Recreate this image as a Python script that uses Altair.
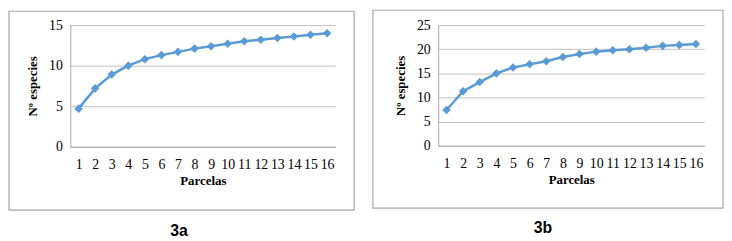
import altair as alt
import pandas as pd

parcelas = list(range(1, 17))
especies_3a = [4.7, 7.2, 8.9, 10.0, 10.8, 11.3, 11.7, 12.1, 12.4, 12.7, 13.0, 13.2, 13.4, 13.6, 13.8, 14.0]
especies_3b = [7.4, 11.3, 13.2, 15.0, 16.2, 16.9, 17.5, 18.4, 19.0, 19.5, 19.8, 20.0, 20.3, 20.7, 20.9, 21.1]
y_ticks_3a = [0, 5, 10, 15]
y_ticks_3b = [0, 5, 10, 15, 20, 25]

LINE = "#5B9BD5"
BORDER = "#A6A6A6"
GRID = "#BFBFBF"


def panel(values, ticks, w, h, box, label, label_xy):
    df = pd.DataFrame({"Parcelas": parcelas, "especies": values})
    one = pd.DataFrame({"a": [0]})
    x = alt.X(
        "Parcelas:O",
        scale=alt.Scale(type="point", padding=0.5),
        axis=alt.Axis(
            title="Parcelas", labelAngle=0, ticks=False, grid=False,
            domainColor=BORDER, labelPadding=11, titlePadding=3,
        ),
    )
    y = alt.Y(
        "especies:Q",
        scale=alt.Scale(domain=[ticks[0], ticks[-1]], nice=False),
        axis=alt.Axis(
            title="Nº especies", values=ticks, ticks=False, grid=True,
            gridColor=GRID, domainColor=BORDER, labelPadding=8, titlePadding=9,
        ),
    )
    frame = alt.Chart(one).mark_rect(fillOpacity=0, stroke=BORDER, strokeWidth=1.2).encode(
        x=alt.value(box[0]), x2=alt.value(box[1]), y=alt.value(box[2]), y2=alt.value(box[3])
    )
    base = alt.Chart(df).encode(x=x, y=y)
    line = base.mark_line(color=LINE, strokeWidth=2.5)
    pts = base.mark_point(shape="diamond", filled=True, size=75, color=LINE, opacity=1)
    txt = alt.Chart(one).mark_text(
        text=label, font="Liberation Sans", fontWeight="bold", fontSize=16, color="black"
    ).encode(x=alt.value(label_xy[0]), y=alt.value(label_xy[1]))
    return alt.layer(frame, line, pts, txt).properties(width=w, height=h)


left = panel(especies_3a, y_ticks_3a, 268, 123, (-62, 287, -14, 187), "3a", (110, 208))
right = panel(especies_3b, y_ticks_3b, 269, 122, (-66, 288, -15, 185), "3b", (106, 205))

chart = (
    alt.hconcat(left, right, spacing=17)
    .properties(padding=0)
    .configure_view(stroke=None)
    .configure_axis(
        labelFont="Liberation Serif", titleFont="Liberation Serif",
        labelFontSize=14, titleFontSize=13, titleFontWeight="bold",
        labelColor="black", titleColor="black",
    )
)

chart.save("out.html", embed_options={"renderer": "svg", "actions": False})
